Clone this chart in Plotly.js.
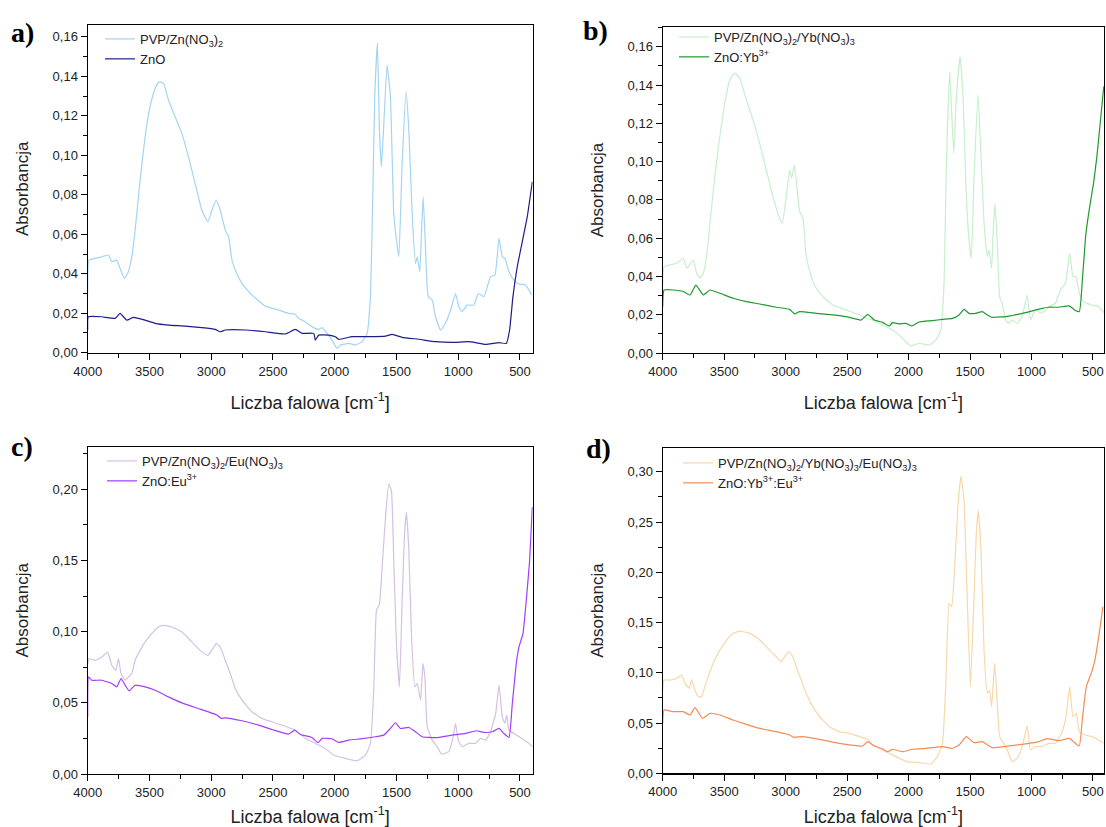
<!DOCTYPE html>
<html>
<head>
<meta charset="utf-8">
<script src="https://cdn.plot.ly/plotly-3.0.1.min.js"></script>
<style>
html,body{margin:0;padding:0;background:#fff;}
#chart{width:1106px;height:827px;}
</style>
</head>
<body>
<div id="chart"></div>
<script>
// ---- Data (wavenumber cm-1, absorbance) ----
const a_pvp = [[4000,0.0300],[3990,0.0469],[3941,0.0478],[3886,0.0486],[3832,0.0495],[3805,0.0461],[3765,0.0469],[3738,0.0427],[3703,0.0376],[3676,0.0402],[3643,0.0486],[3616,0.0621],[3576,0.0874],[3535,0.1094],[3495,0.1246],[3454,0.1338],[3422,0.1372],[3386,0.1364],[3346,0.1279],[3292,0.1195],[3238,0.1111],[3184,0.0992],[3130,0.0857],[3076,0.0722],[3027,0.0663],[2995,0.0722],[2959,0.0773],[2927,0.0722],[2886,0.0621],[2859,0.0587],[2832,0.0469],[2805,0.0419],[2751,0.0351],[2670,0.0292],[2562,0.0236],[2454,0.0216],[2373,0.0199],[2324,0.0196],[2292,0.0174],[2238,0.0157],[2184,0.0132],[2130,0.0118],[2103,0.0127],[2062,0.0098],[2022,0.0064],[1981,0.0022],[1954,0.0039],[1886,0.0047],[1832,0.0039],[1778,0.0056],[1738,0.0098],[1711,0.0284],[1692,0.0790],[1676,0.1296],[1654,0.1570],[1638,0.1127],[1622,0.0942],[1605,0.1127],[1576,0.1457],[1549,0.1296],[1522,0.0705],[1503,0.0587],[1481,0.0486],[1454,0.0959],[1422,0.1322],[1400,0.1127],[1373,0.0705],[1346,0.0452],[1332,0.0486],[1311,0.0410],[1297,0.0621],[1284,0.0790],[1265,0.0537],[1243,0.0284],[1211,0.0267],[1184,0.0182],[1143,0.0115],[1103,0.0149],[1062,0.0216],[1022,0.0300],[995,0.0233],[968,0.0208],[927,0.0241],[873,0.0241],[838,0.0300],[792,0.0284],[738,0.0385],[703,0.0393],[670,0.0579],[643,0.0486],[622,0.0478],[589,0.0410],[549,0.0368],[508,0.0348],[454,0.0343],[427,0.0317],[405,0.0292]];
const a_zno = [[4000,0.0115],[3995,0.0182],[3886,0.0182],[3778,0.0174],[3738,0.0199],[3684,0.0165],[3630,0.0179],[3535,0.0165],[3454,0.0149],[3346,0.0140],[3211,0.0135],[3076,0.0127],[2968,0.0118],[2927,0.0106],[2886,0.0115],[2724,0.0115],[2562,0.0106],[2400,0.0095],[2319,0.0118],[2265,0.0098],[2170,0.0098],[2157,0.0064],[2130,0.0089],[2049,0.0089],[1995,0.0081],[1968,0.0068],[1859,0.0081],[1724,0.0081],[1589,0.0084],[1535,0.0093],[1454,0.0078],[1319,0.0068],[1184,0.0056],[1049,0.0052],[914,0.0056],[859,0.0051],[778,0.0042],[670,0.0051],[611,0.0047],[584,0.0115],[557,0.0284],[522,0.0435],[484,0.0554],[441,0.0689],[400,0.0866]];

const b_pvp = [[4000,0.0364],[3989,0.0451],[3941,0.0460],[3886,0.0469],[3832,0.0495],[3805,0.0443],[3751,0.0486],[3724,0.0416],[3697,0.0390],[3670,0.0416],[3643,0.0503],[3616,0.0678],[3576,0.0922],[3535,0.1131],[3495,0.1305],[3454,0.1427],[3414,0.1462],[3373,0.1436],[3319,0.1322],[3265,0.1218],[3211,0.1096],[3157,0.0956],[3103,0.0817],[3049,0.0704],[3027,0.0678],[2995,0.0817],[2968,0.0956],[2951,0.0913],[2930,0.0983],[2908,0.0869],[2886,0.0739],[2859,0.0704],[2832,0.0503],[2792,0.0399],[2751,0.0338],[2697,0.0294],[2616,0.0251],[2508,0.0225],[2400,0.0199],[2346,0.0181],[2292,0.0172],[2238,0.0155],[2157,0.0129],[2076,0.0094],[2022,0.0059],[1981,0.0037],[1914,0.0051],[1832,0.0042],[1778,0.0068],[1738,0.0120],[1711,0.0364],[1692,0.0991],[1665,0.1470],[1649,0.1253],[1632,0.1044],[1611,0.1340],[1581,0.1549],[1557,0.1340],[1530,0.0817],[1508,0.0591],[1489,0.0495],[1468,0.0904],[1435,0.1348],[1414,0.1078],[1386,0.0678],[1359,0.0503],[1346,0.0538],[1324,0.0443],[1314,0.0608],[1297,0.0782],[1278,0.0573],[1259,0.0294],[1238,0.0260],[1211,0.0172],[1184,0.0155],[1157,0.0172],[1116,0.0155],[1076,0.0190],[1035,0.0303],[1008,0.0172],[968,0.0225],[914,0.0207],[859,0.0242],[805,0.0260],[765,0.0329],[724,0.0364],[689,0.0521],[662,0.0399],[638,0.0399],[611,0.0312],[576,0.0268],[508,0.0251],[454,0.0242],[412,0.0211]];
const b_zno = [[4000,0.0242],[3989,0.0329],[3914,0.0329],[3832,0.0321],[3778,0.0303],[3730,0.0355],[3670,0.0303],[3616,0.0329],[3535,0.0312],[3427,0.0286],[3319,0.0268],[3211,0.0256],[3076,0.0239],[2968,0.0228],[2927,0.0204],[2886,0.0216],[2751,0.0207],[2616,0.0199],[2508,0.0190],[2386,0.0172],[2332,0.0202],[2278,0.0172],[2211,0.0160],[2157,0.0141],[2130,0.0159],[2076,0.0152],[2022,0.0155],[1973,0.0141],[1914,0.0162],[1805,0.0169],[1724,0.0176],[1643,0.0181],[1589,0.0199],[1549,0.0228],[1508,0.0207],[1454,0.0207],[1400,0.0216],[1359,0.0199],[1319,0.0186],[1184,0.0193],[1049,0.0211],[914,0.0233],[859,0.0239],[778,0.0239],[692,0.0246],[649,0.0225],[611,0.0216],[584,0.0399],[557,0.0625],[522,0.0782],[495,0.0887],[468,0.1026],[441,0.1200],[412,0.1392]];

const c_pvp = [[4000,0.0776],[3989,0.0811],[3941,0.0799],[3886,0.0822],[3838,0.0857],[3805,0.0764],[3773,0.0729],[3751,0.0811],[3730,0.0706],[3697,0.0659],[3670,0.0682],[3643,0.0706],[3616,0.0799],[3576,0.0869],[3535,0.0928],[3481,0.0986],[3427,0.1033],[3386,0.1044],[3319,0.1033],[3238,0.0998],[3157,0.0928],[3089,0.0869],[3027,0.0834],[2995,0.0869],[2959,0.0916],[2927,0.0893],[2886,0.0799],[2846,0.0706],[2805,0.0600],[2751,0.0519],[2670,0.0437],[2589,0.0390],[2508,0.0367],[2400,0.0336],[2319,0.0308],[2238,0.0250],[2157,0.0215],[2076,0.0180],[2008,0.0133],[1914,0.0110],[1819,0.0093],[1751,0.0133],[1711,0.0215],[1684,0.0589],[1662,0.1150],[1638,0.1196],[1616,0.1453],[1589,0.1804],[1562,0.2037],[1541,0.1991],[1522,0.1500],[1500,0.0916],[1476,0.0612],[1454,0.1220],[1435,0.1687],[1419,0.1839],[1400,0.1570],[1378,0.0963],[1351,0.0612],[1332,0.0636],[1305,0.0519],[1286,0.0776],[1270,0.0682],[1251,0.0332],[1211,0.0238],[1170,0.0192],[1135,0.0140],[1076,0.0157],[1041,0.0262],[1022,0.0355],[1000,0.0238],[968,0.0192],[914,0.0215],[859,0.0215],[819,0.0250],[778,0.0238],[738,0.0297],[697,0.0425],[670,0.0624],[643,0.0402],[622,0.0355],[608,0.0414],[589,0.0308],[549,0.0285],[484,0.0250],[427,0.0215],[400,0.0192]];
const c_zno = [[4000,0.0402],[3993,0.0682],[3968,0.0659],[3886,0.0659],[3805,0.0636],[3765,0.0612],[3730,0.0671],[3697,0.0624],[3665,0.0584],[3616,0.0624],[3535,0.0612],[3454,0.0589],[3346,0.0542],[3238,0.0500],[3130,0.0467],[3022,0.0437],[2954,0.0414],[2919,0.0390],[2886,0.0395],[2751,0.0374],[2616,0.0343],[2508,0.0313],[2373,0.0280],[2324,0.0308],[2278,0.0278],[2184,0.0257],[2135,0.0220],[2103,0.0250],[2022,0.0248],[1968,0.0222],[1886,0.0238],[1778,0.0248],[1670,0.0262],[1603,0.0273],[1549,0.0320],[1508,0.0360],[1468,0.0320],[1400,0.0327],[1346,0.0297],[1292,0.0262],[1184,0.0255],[1049,0.0273],[941,0.0285],[854,0.0304],[792,0.0292],[724,0.0297],[670,0.0320],[630,0.0285],[589,0.0257],[562,0.0495],[530,0.0776],[508,0.0893],[476,0.0986],[449,0.1220],[422,0.1500],[400,0.1874]];

const d_pvp = [[4000,0.0829],[3989,0.0928],[3941,0.0928],[3886,0.0945],[3846,0.0978],[3819,0.0895],[3784,0.0845],[3765,0.0935],[3738,0.0829],[3711,0.0762],[3684,0.0762],[3657,0.0862],[3630,0.0961],[3589,0.1094],[3535,0.1226],[3481,0.1326],[3427,0.1392],[3373,0.1415],[3292,0.1392],[3211,0.1326],[3130,0.1226],[3076,0.1160],[3035,0.1110],[3000,0.1177],[2973,0.1210],[2941,0.1160],[2914,0.1061],[2873,0.0928],[2832,0.0795],[2778,0.0663],[2724,0.0563],[2643,0.0464],[2562,0.0414],[2481,0.0398],[2400,0.0365],[2332,0.0338],[2292,0.0282],[2238,0.0249],[2157,0.0199],[2076,0.0149],[2008,0.0116],[1914,0.0106],[1819,0.0093],[1765,0.0166],[1724,0.0298],[1697,0.0895],[1670,0.1690],[1649,0.1657],[1622,0.2121],[1595,0.2718],[1573,0.2957],[1549,0.2718],[1522,0.1724],[1497,0.0862],[1468,0.1724],[1449,0.2386],[1432,0.2618],[1411,0.2221],[1386,0.1226],[1359,0.0795],[1341,0.0829],[1324,0.0663],[1300,0.1094],[1278,0.0696],[1259,0.0365],[1224,0.0298],[1197,0.0232],[1157,0.0116],[1116,0.0149],[1076,0.0265],[1035,0.0471],[1008,0.0232],[968,0.0265],[914,0.0265],[859,0.0298],[805,0.0298],[751,0.0414],[719,0.0563],[689,0.0862],[662,0.0563],[635,0.0597],[611,0.0414],[562,0.0381],[508,0.0365],[454,0.0331],[415,0.0298]];
const d_zno = [[4000,0.0497],[3989,0.0630],[3914,0.0613],[3832,0.0613],[3778,0.0580],[3738,0.0653],[3676,0.0547],[3616,0.0597],[3535,0.0580],[3427,0.0530],[3319,0.0487],[3211,0.0447],[3076,0.0414],[2968,0.0381],[2935,0.0358],[2859,0.0365],[2724,0.0338],[2562,0.0298],[2373,0.0272],[2332,0.0315],[2278,0.0272],[2211,0.0242],[2170,0.0215],[2130,0.0239],[2049,0.0215],[1968,0.0239],[1859,0.0249],[1724,0.0265],[1643,0.0249],[1589,0.0282],[1530,0.0365],[1468,0.0305],[1400,0.0315],[1319,0.0255],[1184,0.0272],[1049,0.0292],[941,0.0315],[873,0.0345],[778,0.0325],[692,0.0348],[643,0.0298],[611,0.0272],[584,0.0563],[554,0.0862],[514,0.0994],[484,0.1127],[449,0.1392],[419,0.1657]];

// ---- Labels ----
const panelLabels = ['a)', 'b)', 'c)', 'd)'];
const seriesNames = [
  ['PVP/Zn(NO<sub>3</sub>)<sub>2</sub>', 'ZnO'],
  ['PVP/Zn(NO<sub>3</sub>)<sub>2</sub>/Yb(NO<sub>3</sub>)<sub>3</sub>', 'ZnO:Yb<sup>3+</sup>'],
  ['PVP/Zn(NO<sub>3</sub>)<sub>2</sub>/Eu(NO<sub>3</sub>)<sub>3</sub>', 'ZnO:Eu<sup>3+</sup>'],
  ['PVP/Zn(NO<sub>3</sub>)<sub>2</sub>/Yb(NO<sub>3</sub>)<sub>3</sub>/Eu(NO<sub>3</sub>)<sub>3</sub>', 'ZnO:Yb<sup>3+</sup>:Eu<sup>3+</sup>']
];
const xTitle = 'Liczba falowa [cm<sup>-1</sup>]';
const yTitle = 'Absorbancja';

const seriesData = [[a_pvp, a_zno], [b_pvp, b_zno], [c_pvp, c_zno], [d_pvp, d_zno]];
const colors = [['#a3d4f3', '#1c1c8c'], ['#c6efcc', '#1f9a2c'], ['#d3c1e2', '#a23ef8'], ['#f6d8aa', '#f58b55']];

// ---- Layout geometry (pixels) ----
const W = 1106, H = 827;
const boxes = [
  {l: 87.7, r: 532.7, t: 25, b: 352.7, xr: [4000, 397], yr: [0, 0.166], dy: 0.02},
  {l: 662.7, r: 1104, t: 27, b: 353, xr: [4000, 410], yr: [0, 0.1703], dy: 0.02},
  {l: 87.7, r: 532.7, t: 446.7, b: 774, xr: [4000, 397], yr: [0, 0.23], dy: 0.05},
  {l: 662.7, r: 1104, t: 447.7, b: 773.3, xr: [4000, 410], yr: [0, 0.324], dy: 0.05}
];
const legendPos = [{x: 100, y: 24}, {x: 674, y: 22}, {x: 102, y: 446}, {x: 678, y: 448}];
const labelPos = [{x: 22, y: 32}, {x: 595, y: 30}, {x: 22, y: 446}, {x: 598, y: 449}];

const font = 'Liberation Sans, Arial, sans-serif';
const traces = [];
const layout = {
  width: W, height: H,
  margin: {l: 0, r: 0, t: 0, b: 0},
  paper_bgcolor: '#fff', plot_bgcolor: '#fff',
  separators: ', ',
  font: {family: font, color: '#222', size: 13},
  annotations: []
};

boxes.forEach((bx, i) => {
  const k = i + 1;
  const sfx = (k === 1 ? '' : String(k));
  const xa = 'xaxis' + sfx, ya = 'yaxis' + sfx;
  const lg = 'legend' + sfx;
  seriesData[i].forEach((s, j) => {
    traces.push({
      type: 'scatter', mode: 'lines',
      x: s.map(p => p[0]), y: s.map(p => p[1]),
      name: seriesNames[i][j],
      line: {color: colors[i][j], width: 1.2, shape: 'spline', smoothing: 0.4},
      xaxis: 'x' + sfx, yaxis: 'y' + sfx,
      legend: lg
    });
  });
  layout[xa] = {
    domain: [bx.l / W, bx.r / W], anchor: 'y' + sfx,
    range: bx.xr, autorange: false,
    showgrid: false, zeroline: false,
    showline: true, linecolor: '#000', linewidth: 1.2, mirror: true,
    ticks: 'outside', ticklen: 6, tickwidth: 1, tickcolor: '#000',
    tick0: 500, dtick: 500,
    minor: {ticks: 'outside', ticklen: 4, tickwidth: 1, tickcolor: '#000', dtick: 250, tick0: 250, showgrid: false},
    tickfont: {family: font, size: 13, color: '#222'},
    title: {text: xTitle, font: {family: font, size: 18, color: '#222'}, standoff: 18}
  };
  layout[ya] = {
    domain: [1 - bx.b / H, 1 - bx.t / H], anchor: 'x' + sfx,
    range: bx.yr, autorange: false,
    showgrid: false, zeroline: false,
    showline: true, linecolor: '#000', linewidth: 1.2, mirror: true,
    ticks: 'outside', ticklen: 6, tickwidth: 1, tickcolor: '#000',
    tick0: 0, dtick: bx.dy, tickformat: '.2f',
    minor: {ticks: 'outside', ticklen: 4, tickwidth: 1, tickcolor: '#000', dtick: bx.dy / 2, showgrid: false},
    tickfont: {family: font, size: 13, color: '#222'},
    title: {text: yTitle, font: {family: font, size: 17, color: '#222'}, standoff: 19}
  };
  layout[lg] = {
    x: legendPos[i].x / W, y: 1 - legendPos[i].y / H,
    xanchor: 'left', yanchor: 'top',
    bgcolor: 'rgba(0,0,0,0)', borderwidth: 0,
    font: {family: font, size: 13, color: '#222'},
    tracegroupgap: 0, itemwidth: 30
  };
  layout.annotations.push({
    text: '<b>' + panelLabels[i] + '</b>', xref: 'paper', yref: 'paper',
    x: labelPos[i].x / W, y: 1 - labelPos[i].y / H, xanchor: 'center', yanchor: 'middle',
    showarrow: false, font: {family: 'Liberation Serif, Times New Roman, serif', size: 28, color: '#000'}
  });
});

Plotly.newPlot('chart', traces, layout, {staticPlot: true, displayModeBar: false});
</script>
</body>
</html>
